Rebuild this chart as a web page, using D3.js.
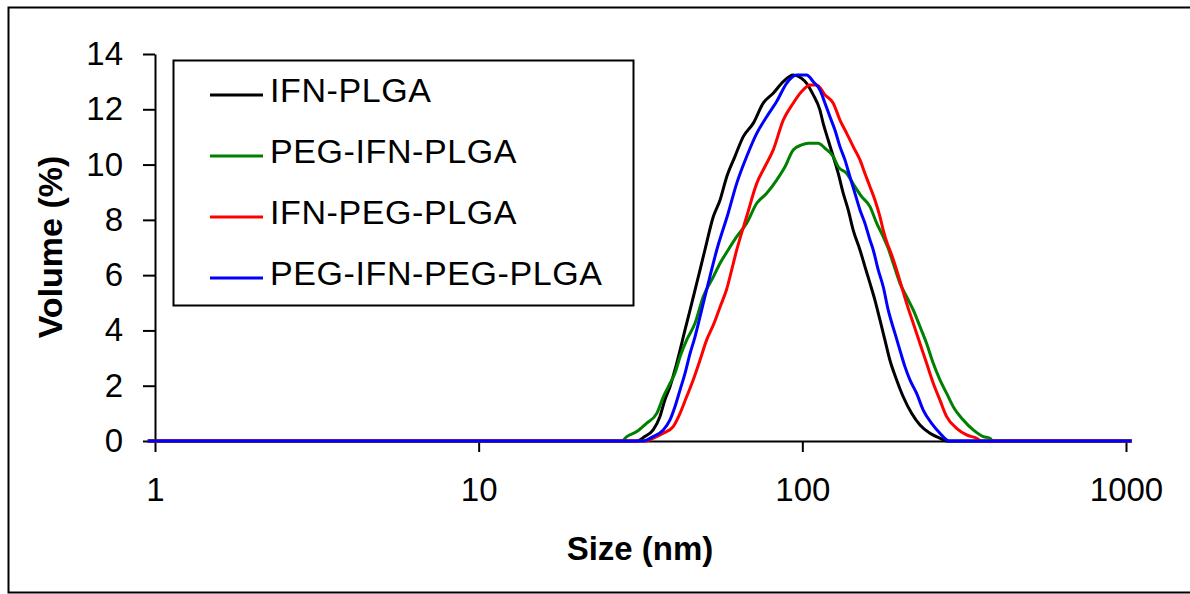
<!DOCTYPE html>
<html>
<head>
<meta charset="utf-8">
<script src="https://cdn.jsdelivr.net/npm/d3@7"></script>
<style>
	body { margin: 0; background: #fff; }
	svg { display: block; }
	text { font-family: "Liberation Sans", Arial, sans-serif; fill: #000; }
</style>
</head>
<body>
<div id="chart"></div>
<script>
// size (nm) / volume (%) pairs
var ifnPlga = [
	[0.95,0],[30.8,0],[32.6,0.16],[34.6,0.40],[36.3,0.88],[37.6,1.48],[39.0,1.96],[40.4,2.57],
	[41.9,3.29],[43.4,4.02],[45.0,4.74],[46.6,5.46],[48.3,6.19],[50.0,6.91],[53.1,8.12],[55.7,8.72],
	[58.4,9.56],[61.9,10.29],[65.7,11.01],[70.5,11.49],[75.7,12.22],[81.3,12.58],[87.3,13.0],[93.7,13.24],
	[99.5,13.12],[103.1,12.94],[108.1,12.52],[113.3,11.98],[116.0,11.49],[120.2,10.89],[124.6,10.29],
	[129.1,9.68],[133.8,8.96],[138.6,8.36],[143.6,7.63],[150.7,6.91],[156.1,6.31],[161.8,5.71],
	[167.6,5.10],[173.7,4.38],[180.0,3.65],[186.4,2.93],[195.6,2.21],[205.0,1.60],[217.6,1.00],
	[230.9,0.58],[247.9,0.28],[266.2,0.10],[279.2,0],[1041,0]
];
var pegIfnPlga = [
	[0.95,0],[27.7,0],[28.7,0.16],[30.8,0.34],[33.0,0.64],[35.5,1.00],[37.2,1.60],[39.0,2.08],
	[40.4,2.45],[41.9,3.05],[43.9,3.65],[46.6,4.26],[49.4,5.22],[53.1,5.94],[55.7,6.43],[59.0,6.91],
	[62.7,7.39],[67.3,7.88],[72.3,8.60],[77.6,8.96],[83.3,9.44],[88.4,9.92],[93.7,10.53],[99.5,10.71],
	[104.3,10.77],[112.0,10.77],[117.5,10.59],[124.6,10.29],[129.1,9.92],[137.1,9.68],[145.4,9.20],
	[152.5,8.84],[161.8,8.48],[169.7,7.88],[177.8,7.39],[184.2,6.97],[190.9,6.43],[200.2,5.71],
	[210.0,5.22],[220.1,4.74],[230.9,4.14],[242.1,3.53],[253.8,2.81],[266.2,2.21],[279.2,1.72],
	[292.6,1.24],[314.2,0.76],[337.3,0.40],[362.2,0.16],[379.8,0.10],[388,0],[1041,0]
];
var ifnPegPlga = [
	[0.95,0],[33.0,0],[34.6,0.10],[37.2,0.28],[39.9,0.52],[41.9,1.00],[43.9,1.60],[46.0,2.21],
	[48.3,2.93],[50.6,3.65],[53.1,4.20],[55.7,4.85],[58.4,5.50],[60.5,6.19],[62.7,6.91],[67.3,8.12],
	[72.3,9.32],[76.6,9.92],[81.3,10.53],[87.3,11.61],[93.7,12.22],[99.5,12.64],[105.6,12.88],
	[110.8,12.88],[117.5,12.52],[124.6,12.22],[130.7,11.61],[137.1,11.13],[143.6,10.65],[150.7,10.17],
	[156.1,9.68],[161.8,9.20],[167.6,8.72],[173.7,8.12],[177.8,7.63],[182.9,7.15],[186.4,6.91],
	[195.6,6.19],[202.7,5.58],[210.0,4.98],[220.1,4.26],[230.9,3.53],[242.1,2.81],[253.8,2.09],
	[266.2,1.48],[279.2,0.88],[299.8,0.46],[321.8,0.22],[345.5,0.10],[357.9,0],[1041,0]
];
var pegIfnPegPlga = [
	[0.95,0],[32.2,0],[34.6,0.16],[37.2,0.40],[39.0,0.76],[40.4,1.24],[41.9,1.85],[43.4,2.45],
	[45.0,3.17],[46.6,3.77],[48.3,4.50],[50.0,5.22],[51.8,5.94],[54.4,6.91],[59.0,8.24],[62.7,9.32],
	[67.3,10.29],[72.3,11.13],[77.6,11.73],[83.3,12.28],[89.4,12.94],[96.0,13.24],[103.1,13.24],
	[108.1,13.0],[113.3,12.70],[117.5,12.22],[121.7,11.73],[126.1,11.25],[130.7,10.65],[135.4,10.17],
	[140.3,9.56],[145.4,8.96],[150.7,8.36],[156.1,7.88],[161.8,7.27],[165.6,6.91],[171.6,6.19],
	[177.8,5.58],[184.2,4.74],[193.2,3.90],[200.2,3.29],[207.5,2.69],[215.0,2.21],[225.5,1.72],
	[236.3,1.12],[250.9,0.64],[266.2,0.28],[279.2,0.04],[285,0],[1041,0]
];

var seriesNames = ['IFN-PLGA', 'PEG-IFN-PLGA', 'IFN-PEG-PLGA', 'PEG-IFN-PEG-PLGA'];
var seriesColors = ['#000000', '#008000', '#ff0000', '#0000ff'];
var seriesData = [ifnPlga, pegIfnPlga, ifnPegPlga, pegIfnPegPlga];

var xTicks = [1, 10, 100, 1000];
var yTicks = [0, 2, 4, 6, 8, 10, 12, 14];

var width = 1190, height = 594;

var svg = d3.select('#chart').append('svg')
	.attr('width', width)
	.attr('height', height);

// outer frame (right edge runs off the picture)
svg.append('rect')
	.attr('x', 8.5).attr('y', 7.5)
	.attr('width', 1200).attr('height', 585)
	.attr('fill', 'none')
	.attr('stroke', '#000')
	.attr('stroke-width', 2);

var x = d3.scaleLog().domain([1, 1000]).range([155, 1126]);
var y = d3.scaleLinear().domain([0, 14]).range([441, 54]);

var yAxis = svg.append('g')
	.attr('transform', 'translate(155,0)')
	.call(d3.axisLeft(y).tickValues(yTicks).tickSize(12).tickSizeOuter(0).tickPadding(20));

var xAxis = svg.append('g')
	.attr('transform', 'translate(0,441)')
	.call(d3.axisBottom(x).tickValues(xTicks).tickFormat(d3.format('d')).tickSize(11).tickSizeOuter(0));

[yAxis, xAxis].forEach(function(g) {
	g.selectAll('path, line').attr('stroke', '#000').attr('stroke-width', 2);
	g.selectAll('text')
		.attr('fill', '#000')
		.style('font-family', '"Liberation Sans", Arial, sans-serif')
		.style('font-size', '33px');
});

yAxis.selectAll('text').attr('dy', '0.32em');
xAxis.selectAll('text').attr('y', 60).attr('dy', null);

// curves
var line = d3.line()
	.x(function(d) { return x(d[0]); })
	.y(function(d) { return y(d[1]); })
	.curve(d3.curveMonotoneX);

svg.selectAll('.curve')
	.data(seriesData)
	.enter()
		.append('path')
			.attr('class', 'curve')
			.attr('d', line)
			.attr('fill', 'none')
			.attr('stroke', function(d, i) { return seriesColors[i]; })
			.attr('stroke-width', 3)
			.attr('stroke-linejoin', 'round');

// legend
var legend = svg.append('g');

legend.append('rect')
	.attr('x', 173.5).attr('y', 60.5)
	.attr('width', 460).attr('height', 245)
	.attr('fill', 'none')
	.attr('stroke', '#000')
	.attr('stroke-width', 2);

var items = legend.selectAll('.item')
	.data(seriesNames)
	.enter()
		.append('g')
			.attr('class', 'item')
			.attr('transform', function(d, i) { return 'translate(0,' + (95 + i * 61) + ')'; });

items.append('line')
	.attr('x1', 210).attr('x2', 263)
	.attr('y1', 0).attr('y2', 0)
	.attr('stroke', function(d, i) { return seriesColors[i]; })
	.attr('stroke-width', 3);

items.append('text')
	.attr('x', 270)
	.attr('y', 7)
	.style('font-size', '34px')
	.style('letter-spacing', '0.6px')
	.text(function(d) { return d; });

// axis titles
svg.append('text')
	.attr('x', 640)
	.attr('y', 560)
	.attr('text-anchor', 'middle')
	.style('font-size', '33px')
	.style('font-weight', 'bold')
	.text('Size (nm)');

svg.append('text')
	.attr('transform', 'translate(62,247) rotate(-90)')
	.attr('text-anchor', 'middle')
	.style('font-size', '34px')
	.style('font-weight', 'bold')
	.text('Volume (%)');
</script>
</body>
</html>
